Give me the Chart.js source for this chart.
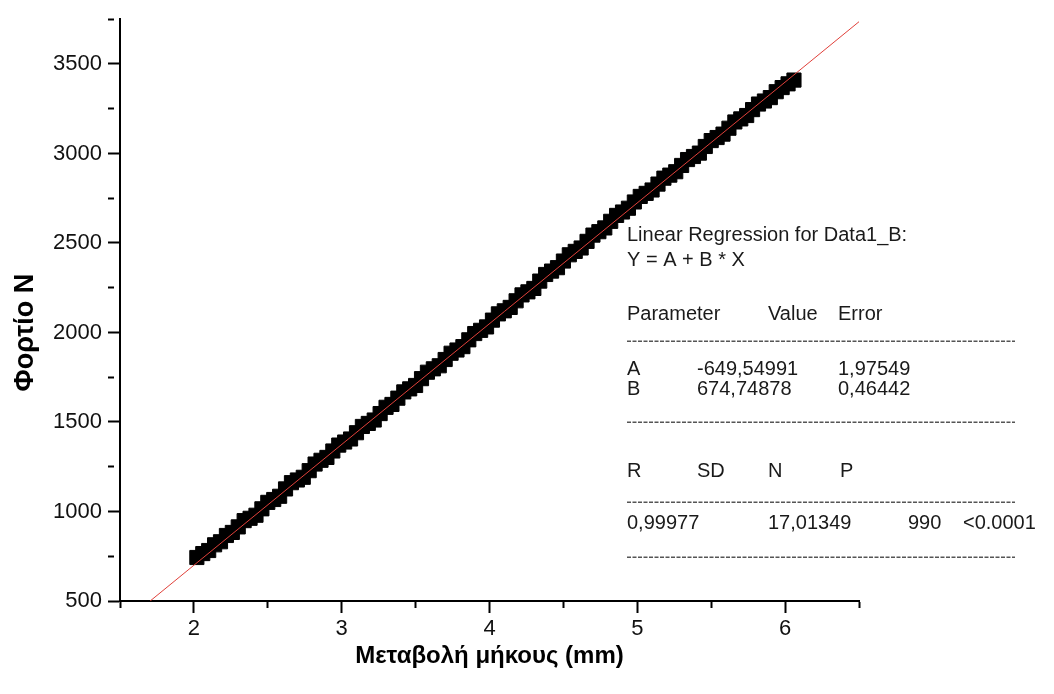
<!DOCTYPE html>
<html>
<head>
<meta charset="utf-8">
<title>Φορτίο - Μεταβολή μήκους</title>
<script src="https://cdn.jsdelivr.net/npm/chart.js@4.4.1/dist/chart.umd.min.js"></script>
<style>
    body { margin: 0; background: #ffffff; }
    #load-chart { display: block; }
</style>
</head>
<body>
<canvas id="load-chart" width="1054" height="694"></canvas>
<script>
const loadX = [
    2.02, 2.06, 2.10, 2.14, 2.18, 2.22, 2.26, 2.30, 2.34, 2.38,
    2.42, 2.46, 2.50, 2.54, 2.58, 2.62, 2.66, 2.70, 2.74, 2.78,
    2.82, 2.86, 2.90, 2.94, 2.98, 3.02, 3.06, 3.10, 3.14, 3.18,
    3.22, 3.26, 3.30, 3.34, 3.38, 3.42, 3.46, 3.50, 3.54, 3.58,
    3.62, 3.66, 3.70, 3.74, 3.78, 3.82, 3.86, 3.90, 3.94, 3.98,
    4.02, 4.06, 4.10, 4.14, 4.18, 4.22, 4.26, 4.30, 4.34, 4.38,
    4.42, 4.46, 4.50, 4.54, 4.58, 4.62, 4.66, 4.70, 4.74, 4.78,
    4.82, 4.86, 4.90, 4.94, 4.98, 5.02, 5.06, 5.10, 5.14, 5.18,
    5.22, 5.26, 5.30, 5.34, 5.38, 5.42, 5.46, 5.50, 5.54, 5.58,
    5.62, 5.66, 5.70, 5.74, 5.78, 5.82, 5.86, 5.90, 5.94, 5.98,
    6.02, 6.06
];
const loadY = [
    743, 765, 782, 814, 831, 866, 883, 914, 949, 962,
    979, 1015, 1051, 1067, 1085, 1126, 1161, 1176, 1191, 1228,
    1265, 1286, 1302, 1338, 1371, 1388, 1405, 1440, 1475, 1492,
    1511, 1547, 1582, 1598, 1633, 1668, 1685, 1704, 1742, 1778,
    1797, 1814, 1849, 1884, 1902, 1921, 1959, 1994, 2012, 2031,
    2069, 2104, 2121, 2140, 2177, 2210, 2227, 2246, 2287, 2324,
    2343, 2362, 2399, 2434, 2453, 2472, 2509, 2544, 2563, 2584,
    2621, 2654, 2673, 2694, 2729, 2760, 2777, 2796, 2829, 2862,
    2879, 2898, 2933, 2966, 2983, 3002, 3039, 3072, 3089, 3108,
    3141, 3176, 3193, 3212, 3245, 3276, 3293, 3312, 3345, 3368,
    3389, 3410
];

// ends of the fitted red line
const fitX = [1.704, 6.5];
const fitY = [500, 3736];

// axis ranges and steps
const xRange = [1.5, 6.5];
const yRange = [500, 3750];
const xStep = 0.5;
const yStep = 250;
const xMajor = 1;
const yMajor = 500;

// regression report text
const reportTitle = ['Linear Regression for Data1_B:', 'Y = A + B * X'];
const paramHeader = ['Parameter', 'Value', 'Error'];
const paramRows = [
    ['A', '-649,54991', '1,97549'],
    ['B', '674,74878', '0,46442']
];
const statHeader = ['R', 'SD', 'N', 'P'];
const statRow = ['0,99977', '17,01349', '990', '<0.0001'];

const xTitle = 'Μεταβολή μήκους (mm)';
// trailing spaces push the rotated title a bit lower, like the original
const yTitle = 'Φορτίο N      ';

const axisFont = '"Liberation Sans", Arial, sans-serif';
const plainFont = '"Liberation Sans", Arial, sans-serif';

function toPoints(xs, ys) {
    return xs.map(function (x, i) {
        return { x: x, y: ys[i] };
    });
}

// short minor ticks: dash only the first few pixels of the tick line
function tickDash(major) {
    return function (ctx) {
        if (!ctx.tick) return [];
        return (Math.abs(ctx.tick.value % major) < 1e-9) ? [] : [6, 40];
    };
}

const reportPlugin = {
    id: 'reportPlugin',
    afterDraw: function (chart) {
        const ctx = chart.ctx;
        const left = chart.chartArea.left + 507;
        const top = chart.chartArea.top;

        ctx.save();
        ctx.fillStyle = '#1a1a1a';
        ctx.font = '20px ' + plainFont;
        ctx.textBaseline = 'middle';
        ctx.textAlign = 'left';

        function row(cells, cols, y) {
            cells.forEach(function (t, i) {
                ctx.fillText(t, left + cols[i], top + y);
            });
        }

        function dashes(y) {
            ctx.save();
            ctx.strokeStyle = '#555555';
            ctx.lineWidth = 1.5;
            ctx.setLineDash([4, 1.5]);
            ctx.beginPath();
            ctx.moveTo(left, top + y);
            ctx.lineTo(left + 388, top + y);
            ctx.stroke();
            ctx.restore();
        }

        ctx.fillText(reportTitle[0], left, top + 216);
        ctx.fillText(reportTitle[1], left, top + 241);

        row(paramHeader, [0, 141, 211], 295);
        dashes(322);
        row(paramRows[0], [0, 70, 211], 350);
        row(paramRows[1], [0, 70, 211], 370);
        dashes(403);

        row(statHeader, [0, 70, 141, 213], 452);
        dashes(483);
        row(statRow, [0, 141, 281, 336], 504);
        dashes(538);

        ctx.restore();
    }
};

function build_chart() {
    const canvas = document.getElementById('load-chart');
    const ctx = canvas.getContext('2d');

    new Chart(ctx, {
        type: 'scatter',
        data: {
            datasets: [{
                label: 'Linear fit',
                data: toPoints(fitX, fitY),
                showLine: true,
                borderColor: '#e0403a',
                borderWidth: 1,
                pointRadius: 0,
                fill: false
            }, {
                label: 'Data1_B',
                data: toPoints(loadX, loadY),
                pointStyle: 'rect',
                pointRadius: 10,
                pointBorderWidth: 1,
                backgroundColor: '#000000',
                borderColor: '#000000'
            }]
        },
        options: {
            responsive: false,
            animation: false,
            layout: {
                padding: { top: 14, right: 195, left: 0, bottom: 0 }
            },
            plugins: {
                legend: { display: false },
                tooltip: { enabled: false }
            },
            scales: {
                x: {
                    type: 'linear',
                    min: xRange[0],
                    max: xRange[1],
                    afterFit: function (scale) { scale.height = 93; },
                    border: { display: true, color: '#000000', width: 2 },
                    grid: {
                        drawOnChartArea: false,
                        drawTicks: true,
                        tickLength: 12,
                        tickWidth: 2,
                        tickColor: '#000000',
                        tickBorderDash: tickDash(xMajor)
                    },
                    ticks: {
                        stepSize: xStep,
                        maxRotation: 0,
                        autoSkip: false,
                        padding: 3,
                        color: '#111111',
                        font: { family: axisFont, size: 22 },
                        callback: function (value) {
                            return (Math.abs(value % xMajor) < 1e-9) ? value : '';
                        }
                    },
                    title: {
                        display: true,
                        text: xTitle,
                        color: '#000000',
                        font: { family: axisFont, size: 24, weight: 'bold' },
                        padding: { top: 0, bottom: 23 }
                    }
                },
                y: {
                    type: 'linear',
                    min: yRange[0],
                    max: yRange[1],
                    afterFit: function (scale) { scale.width = 120; },
                    border: { display: true, color: '#000000', width: 2 },
                    grid: {
                        drawOnChartArea: false,
                        drawTicks: true,
                        tickLength: 12,
                        tickWidth: 2,
                        tickColor: '#000000',
                        tickBorderDash: tickDash(yMajor)
                    },
                    ticks: {
                        stepSize: yStep,
                        autoSkip: false,
                        padding: 6,
                        color: '#111111',
                        font: { family: axisFont, size: 22 },
                        callback: function (value) {
                            return (Math.abs(value % yMajor) < 1e-9) ? value : '';
                        }
                    },
                    title: {
                        display: true,
                        text: yTitle,
                        color: '#000000',
                        font: { family: axisFont, size: 27, weight: 'bold' },
                        padding: { top: 9, bottom: 0 }
                    }
                }
            }
        },
        plugins: [reportPlugin]
    });
}

build_chart();
</script>
</body>
</html>
